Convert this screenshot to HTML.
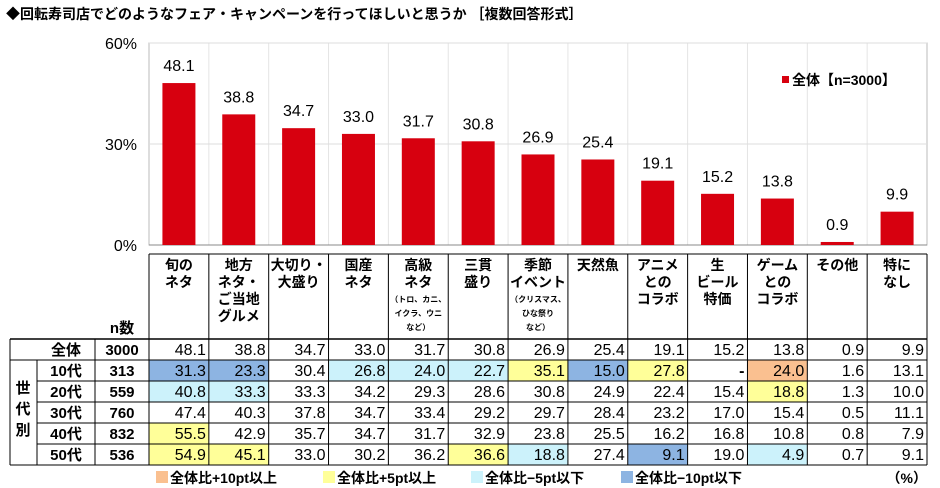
<!DOCTYPE html>
<html><head><meta charset="utf-8"><style>
body{margin:0;background:#fff;}
svg{display:block;font-family:"Liberation Sans","Noto Sans CJK JP",sans-serif;}
</style></head><body>
<svg id="c" width="940" height="488" viewBox="0 0 940 488">
<text x="6" y="19" font-size="14" font-weight="bold">◆回転寿司店でどのようなフェア・キャンペーンを行ってほしいと思うか ［複数回答形式］</text>
<g id="plot"></g>
<g id="tbl"></g>
</svg>
<script>
const categories=[["旬の","ネタ"],["地方","ネタ・","ご当地","グルメ"],["大切り・","大盛り"],["国産","ネタ"],["高級","ネタ"],["三貫","盛り"],["季節","イベント"],["天然魚"],["アニメ","との","コラボ"],["生","ビール","特価"],["ゲーム","との","コラボ"],["その他"],["特に","なし"]];
const subNotes={4:["（トロ、カニ、","イクラ、ウニ","など）"],6:["（クリスマス、","ひな祭り","など）"]};
const totals=[48.1,38.8,34.7,33.0,31.7,30.8,26.9,25.4,19.1,15.2,13.8,0.9,9.9];
const rowLabels=["10代","20代","30代","40代","50代"];
const rowN=[313,559,760,832,536];
const rowValues=[
[31.3,23.3,30.4,26.8,24.0,22.7,35.1,15.0,27.8,null,24.0,1.6,13.1],
[40.8,33.3,33.3,34.2,29.3,28.6,30.8,24.9,22.4,15.4,18.8,1.3,10.0],
[47.4,40.3,37.8,34.7,33.4,29.2,29.7,28.4,23.2,17.0,15.4,0.5,11.1],
[55.5,42.9,35.7,34.7,31.7,32.9,23.8,25.5,16.2,16.8,10.8,0.8,7.9],
[54.9,45.1,33.0,30.2,36.2,36.6,18.8,27.4,9.1,19.0,4.9,0.7,9.1]];
const yTicks=[0,30,60];
const NS="http://www.w3.org/2000/svg";
const X0=149,X1=927,Y0=245,Y1=43,CW=(X1-X0)/categories.length;
const xc=i=>X0+CW*(i+0.5);
const y=v=>Y0-(v/60)*(Y0-Y1);
function mk(p,tag,a,txt){const e=document.createElementNS(NS,tag);for(const k in a)e.setAttribute(k,a[k]);if(txt!=null)e.textContent=txt;p.appendChild(e);return e;}
const plot=document.getElementById('plot');
let fr=mk(plot,'rect',{x:X0,y:Y1,width:X1-X0,height:Y0-Y1,fill:'none',stroke:'#bbb','stroke-width':1});


for(let i=1;i<categories.length;i++){let l=mk(plot,'line',{x1:X0+CW*i,x2:X0+CW*i,y1:Y1,y2:Y0,stroke:'#e4e4e4'});

}
yTicks.forEach(t=>{let l=mk(plot,'line',{x1:X0,x2:X1,y1:y(t),y2:y(t),stroke:t==0?'#888':'#ddd'});


let tx=mk(plot,'text',{x:X0-12,y:y(t)+6,'font-size':16,'text-anchor':'end'},t+'%');

});
totals.forEach((v,i)=>{let b=mk(plot,'rect',{x:xc(i)-16.5,y:y(v),width:33,height:Y0-y(v),fill:'#d7000f'});


let t=mk(plot,'text',{x:xc(i),y:y(v)-12,'font-size':16,'text-anchor':'middle'},v.toFixed(1));

});
let lg=mk(plot,'rect',{x:782,y:76,width:7,height:7,fill:'#d7000f'});


let lt=mk(plot,'text',{x:792,y:85,'font-size':14,'font-weight':'bold'},'全体【n=3000】');


const tb=document.getElementById('tbl');
const rows=[339,360,381,402,423,444,465];
const HT=254;
function col(v,t){if(v==null)return null;const d=v-t;if(d>=10)return'#fac090';if(d>=5)return'#ffff99';if(d<=-10)return'#8db4e2';if(d<=-5)return'#ccf2fb';return null;}
rowValues.forEach((r,ri)=>r.forEach((v,i)=>{const c=col(v,totals[i]);if(c){let rc=mk(tb,'rect',{x:X0+CW*i,y:rows[ri+1],width:CW,height:21,fill:c});

}}));
const L='#000';
function ln(x1,y1,x2,y2,w){mk(tb,'line',{x1,y1,x2,y2,stroke:L,'stroke-width':w||1});}
for(let i=0;i<=categories.length;i++)ln(X0+CW*i,HT,X0+CW*i,rows[6]);
ln(X0,HT,X1,HT);
rows.forEach((ry,k)=>{ln(k==0||k==1||k==6?10:37,ry,X1,ry,k==0?1.5:1);});
ln(10,339,10,465);ln(37,360,37,465);ln(95,339,95,465);
categories.forEach((lines,i)=>{lines.forEach((s,j)=>{let t=mk(tb,'text',{x:xc(i),y:HT+16+j*17,'font-size':14,'font-weight':'bold','text-anchor':'middle'},s);

});
if(subNotes[i])subNotes[i].forEach((s,j)=>{let t=mk(tb,'text',{x:xc(i),y:HT+48+j*14,'font-size':8,'font-weight':'bold','text-anchor':'middle'},s);

});});
let nh=mk(tb,'text',{x:122,y:333,'font-size':15,'font-weight':'bold','text-anchor':'middle'},'n数');


function rowText(ry,label,n,vals,name){let a=mk(tb,'text',{x:66,y:ry+16,'font-size':15,'font-weight':'bold','text-anchor':'middle'},label);


let b=mk(tb,'text',{x:122,y:ry+16,'font-size':15,'font-weight':'bold','text-anchor':'middle'},String(n));


vals.forEach((v,i)=>{let t=mk(tb,'text',{x:X0+CW*(i+1)-3,y:ry+16,'font-size':16,'text-anchor':'end','font-weight':v==null?'bold':'normal'},v==null?'-':v.toFixed(1));

});}
rowText(rows[0],'全体',3000,totals,'total-row');
rowValues.forEach((r,k)=>rowText(rows[k+1],rowLabels[k],rowN[k],r,'age-row-'+k));
['世','代','別'].forEach((s,j)=>{let t=mk(tb,'text',{x:23,y:393+j*21,'font-size':15,'font-weight':'bold','text-anchor':'middle'},s);

});
const leg=[['#fac090','全体比+10pt以上',156],['#ffff99','全体比+5pt以上',323],['#ccf2fb','全体比−5pt以下',471],['#8db4e2','全体比−10pt以下',621]];
leg.forEach(([c,s,x])=>{let r=mk(tb,'rect',{x:x,y:471,width:12,height:12,fill:c});


let t=mk(tb,'text',{x:x+14,y:483,'font-size':14,'font-weight':'bold'},s);

});
let pc=mk(tb,'text',{x:927,y:483,'font-size':14,'font-weight':'bold','text-anchor':'end'},'（%）');


</script>
</body></html>
